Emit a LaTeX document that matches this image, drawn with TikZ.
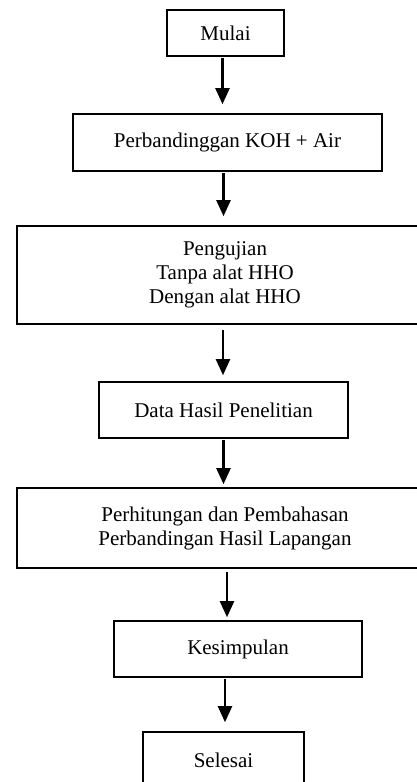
\documentclass[tikz,border=0pt]{standalone}
\usepackage{fontspec}
\setmainfont{Liberation Serif}
\usetikzlibrary{positioning, arrows.meta}

\tikzset{
  stepbox/.style={draw=black, line width=1.6pt, fill=white, align=center,
    inner sep=2pt, font=\fontsize{21}{24}\selectfont},
  flowarrow/.style={-{Triangle[length=16pt,width=14pt]}, line width=2.2pt,
    shorten <=1pt, shorten >=9pt}
}

\begin{document}
\begin{tikzpicture}[x=1pt, y=-1pt]
  \clip (0,0) rectangle (417,782);
  \useasboundingbox (0,0) rectangle (417,782);

  % boxes
  \node[stepbox, minimum width=117pt, minimum height=46pt] (mulai) at (225.5,33) {Mulai};
  \node[stepbox, minimum width=309pt, minimum height=57pt] (koh) at (227.5,142.5) {Perbandinggan KOH + Air};
  \node[stepbox, minimum width=416pt, minimum height=98pt] (uji) at (225,275)
    {Pengujian\\Tanpa alat HHO\\Dengan alat HHO};
  \node[stepbox, minimum width=249pt, minimum height=56pt] (data) at (223.5,410) {Data Hasil Penelitian};
  \node[stepbox, minimum width=416pt, minimum height=80pt] (hitung) at (225,528)
    {Perhitungan dan Pembahasan\\Perbandingan Hasil Lapangan};
  \node[stepbox, minimum width=248pt, minimum height=56pt] (simpul) at (238,649) {Kesimpulan};
  \node[stepbox, minimum width=161pt, minimum height=56pt] (selesai) at (223.5,760) {Selesai};

  % arrows
  \draw[flowarrow] ([xshift=-3pt]mulai.south) -- ([xshift=-3pt]mulai.south |- koh.north);
  \draw[flowarrow] ([xshift=-4pt]koh.south) -- ([xshift=-4pt]koh.south |- uji.north);
  \draw[flowarrow, shorten <=5pt, shorten >=6pt] ([xshift=-2pt]uji.south) -- ([xshift=-2pt]uji.south |- data.north);
  \draw[flowarrow, shorten >=3pt] (data.south) -- (data.south |- hitung.north);
  \draw[flowarrow, shorten <=3pt, shorten >=3pt] ([xshift=2pt]hitung.south) -- ([xshift=2pt]hitung.south |- simpul.north);
  \draw[flowarrow] ([xshift=-13pt]simpul.south) -- ([xshift=-13pt]simpul.south |- selesai.north);
\end{tikzpicture}
\end{document}
